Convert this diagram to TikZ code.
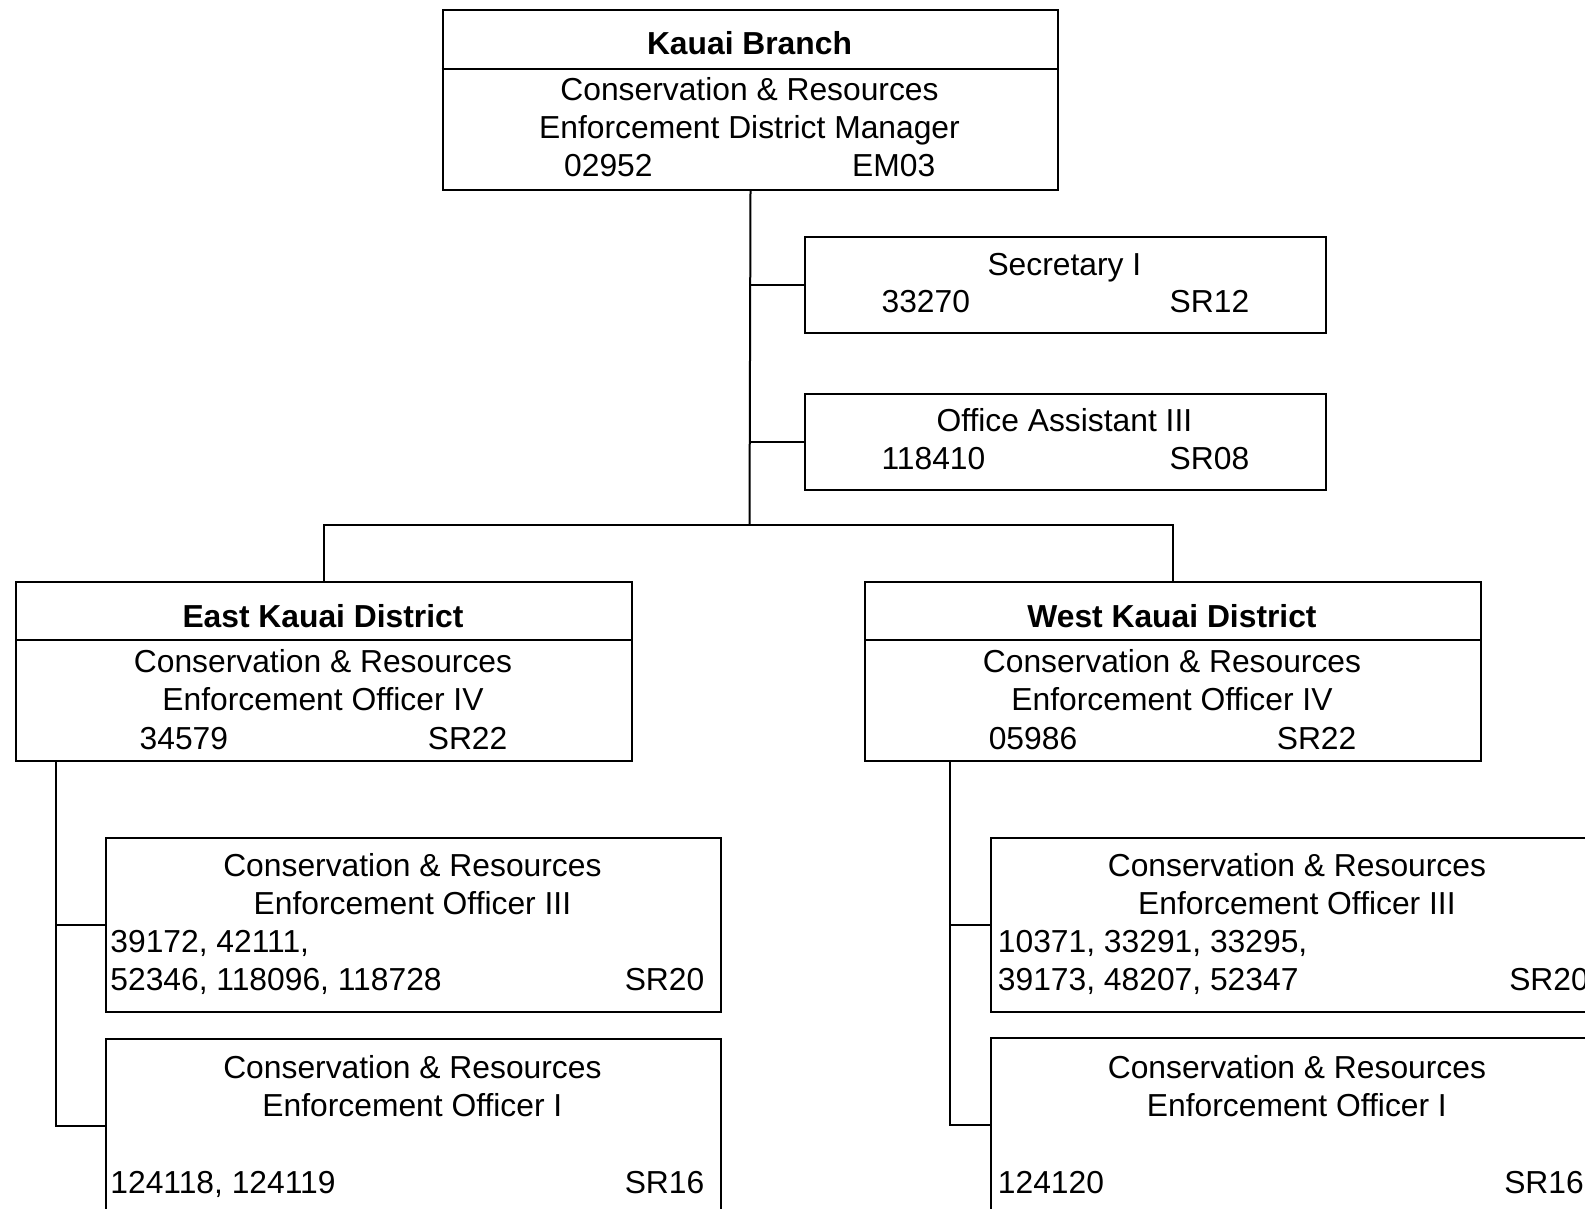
\documentclass[tikz,border=0pt]{standalone}
\usepackage{fontspec}
\setmainfont{Liberation Sans}
\begin{document}
\begin{tikzpicture}[x=1pt,y=-1pt,
  box/.style={draw,line width=2pt,inner sep=0pt,anchor=north west,minimum width=#1},
  txt/.style={inner sep=0pt,anchor=base,font=\fontsize{31.8}{38}\selectfont},
  txl/.style={txt,anchor=base west},
  txr/.style={txt,anchor=base east},
  conn/.style={line width=2pt}]
\useasboundingbox (0,0) rectangle (1585,1209);
\clip (0,0) rectangle (1585,1209);
% boxes
\node[box=615.6pt,minimum height=179.9pt] (top) at (441.7,9.1) {};
\node[box=521.6pt,minimum height=95pt] (sec) at (803.6,236.5) {};
\node[box=521.6pt,minimum height=96pt] (oa) at (803.6,393.2) {};
\node[box=615.5pt,minimum height=178.9pt] (east) at (15.2,581.2) {};
\node[box=615.6pt,minimum height=178.9pt] (west) at (864.2,581.2) {};
\node[box=614.6pt,minimum height=173.8pt] (e3) at (105.1,837) {};
\node[box=614.6pt,minimum height=173pt] (e1) at (105.1,1038.1) {};
\node[box=614.6pt,minimum height=173.8pt] (w3) at (989.6,837) {};
\node[box=614.6pt,minimum height=174pt] (w1) at (989.6,1037.1) {};
% dividers
\draw[conn] (top.west |- 0,68.7) -- (top.east |- 0,68.7);
\draw[conn] (east.west |- 0,639.8) -- (east.east |- 0,639.8);
\draw[conn] (west.west |- 0,639.8) -- (west.east |- 0,639.8);
% connectors
\coordinate (j) at (749.5,524.6);
\coordinate (ev) at (55.6,760.1);
\coordinate (wv) at (950.2,760.1);
\draw[conn] (top.south) -- (j);
\draw[conn] (sec.west) -- (sec.west -| j);
\draw[conn] (oa.west) -- (oa.west -| j);
\draw[conn] (east.north) |- (j) -| (west.north);
\draw[conn] (ev) |- (e3.west);
\draw[conn] (ev) |- (e1.west);
\draw[conn] (wv) |- (w3.west);
\draw[conn] (wv) |- (w1.west);
% top texts
\node[txt,font=\fontsize{31.8}{38}\selectfont\bfseries] (t1) at (749.5,55) {Kauai Branch};
\node[txt] (t2) at (749.5,100.4) {Conservation \& Resources};
\node[txt] (t3) at (749.5,138.8) {Enforcement District Manager};
\node[txl] (t4) at (564,176.2) {02952};
\node[txl] (t5) at (852,176.2) {EM03};
% secretary
\node[txt] (s1) at (1064.4,275.2) {Secretary I};
\node[txl] (s2) at (881.4,312.6) {33270};
\node[txl] (s3) at (1169.5,312.6) {SR12};
% office assistant
\node[txt] (o1) at (1064.4,431.9) {Office Assistant III};
\node[txl] (o2) at (881.4,469.3) {118410};
\node[txl] (o3) at (1169.5,469.3) {SR08};
% east
\node[txt,font=\fontsize{31.8}{38}\selectfont\bfseries] (ea1) at (323,627) {East Kauai District};
\node[txt] (ea2) at (323,672.4) {Conservation \& Resources};
\node[txt] (ea3) at (323,710.9) {Enforcement Officer IV};
\node[txl] (ea4) at (139.5,749.3) {34579};
\node[txl] (ea5) at (427.6,749.3) {SR22};
% west
\node[txt,font=\fontsize{31.8}{38}\selectfont\bfseries] (we1) at (1172,627) {West Kauai District};
\node[txt] (we2) at (1172,672.4) {Conservation \& Resources};
\node[txt] (we3) at (1172,710.9) {Enforcement Officer IV};
\node[txl] (we4) at (988.6,749.3) {05986};
\node[txl] (we5) at (1276.6,749.3) {SR22};
% east III
\node[txt] (e3a) at (412.4,876.6) {Conservation \& Resources};
\node[txt] (e3b) at (412.4,914) {Enforcement Officer III};
\node[txl] (e3c) at (110.2,952.4) {39172, 42111,};
\node[txl] (e3d) at (110.2,990.9) {52346, 118096, 118728};
\node[txr] (e3e) at (704.5,990.9) {SR20};
% east I
\node[txt] (e1a) at (412.4,1078.8) {Conservation \& Resources};
\node[txt] (e1b) at (412.4,1116.2) {Enforcement Officer I};
\node[txl] (e1c) at (110.2,1193) {124118, 124119};
\node[txr] (e1d) at (704.5,1193) {SR16};
% west III
\node[txt] (w3a) at (1296.9,876.6) {Conservation \& Resources};
\node[txt] (w3b) at (1296.9,914) {Enforcement Officer III};
\node[txl] (w3c) at (997.7,952.4) {10371, 33291, 33295,};
\node[txl] (w3d) at (997.7,990.9) {39173, 48207, 52347};
\node[txr] (w3e) at (1589,990.9) {SR20};
% west I
\node[txt] (w1a) at (1296.9,1078.8) {Conservation \& Resources};
\node[txt] (w1b) at (1296.9,1116.2) {Enforcement Officer I};
\node[txl] (w1c) at (997.7,1193) {124120};
\node[txr] (w1d) at (1584,1193) {SR16};
\end{tikzpicture}
\end{document}
